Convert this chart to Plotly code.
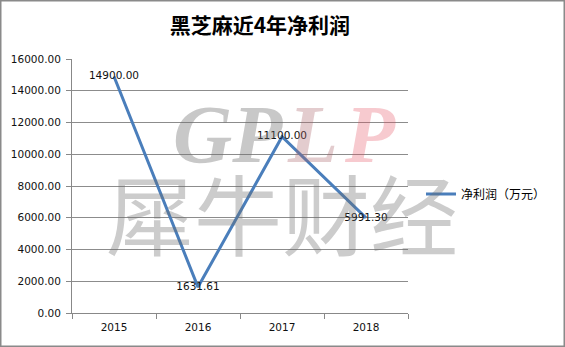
import plotly.graph_objects as go

years = ["2015", "2016", "2017", "2018"]
profit = [14900.00, 1631.61, 11100.00, 5991.30]
labels = ["14900.00", "1631.61", "11100.00", "5991.30"]
series_name = "净利润（万元）"
title = "黑芝麻近4年净利润"

W, H = 565, 347
L, R, T, B = 72, 157, 59, 34
pw, ph = W - L - R, H - T - B

def px(x):
    return (x - L) / pw

def py(y):
    return (H - B - y) / ph

fig = go.Figure()
fig.add_trace(go.Scatter(
    x=years, y=profit, mode="lines+text", name=series_name,
    text=labels, textposition="middle center",
    textfont=dict(family="DejaVu Sans", size=10.5, color="#111"),
    line=dict(color="#4a7ebb", width=3),
    cliponaxis=False,
))

fig.update_layout(
    width=W, height=H,
    margin=dict(l=L, r=R, t=T, b=B),
    paper_bgcolor="white", plot_bgcolor="white",
    title=dict(text="<b>" + title + "</b>", x=0.46, xref="container", xanchor="center",
               y=1 - 26 / H, yref="container", yanchor="middle",
               font=dict(family="Noto Sans CJK SC", size=21, color="#000")),
    showlegend=True,
    legend=dict(x=px(421), y=py(194), xanchor="left", yanchor="middle",
                font=dict(family="Noto Sans CJK SC", size=12, color="#000"),
                bgcolor="rgba(0,0,0,0)"),
    xaxis=dict(type="category", tickson="boundaries", ticks="outside", ticklen=5,
               tickcolor="#888", showline=True, linecolor="#888", linewidth=1,
               showgrid=False, range=[-0.5, 3.5], ticklabelstandoff=4,
               tickfont=dict(family="DejaVu Sans", size=10.5, color="#111")),
    yaxis=dict(range=[0, 16000], dtick=2000, tickformat=".2f", ticks="outside", ticklen=5,
               tickcolor="#888", showline=True, linecolor="#888", linewidth=1,
               showgrid=True, gridcolor="#8c8c8c", gridwidth=1, zeroline=False,
               ticklabelstandoff=3,
               tickfont=dict(family="DejaVu Sans", size=10.5, color="#111")),
)

# watermark
fig.add_annotation(xref="paper", yref="paper", x=px(282), y=py(210),
                   text="犀牛财经", showarrow=False,
                   font=dict(family="Noto Sans CJK SC", size=88, color="rgba(110,110,110,0.35)"))
wm_y = py(87)
fig.add_annotation(xref="paper", yref="paper", x=px(171), y=wm_y, xanchor="left",
                   text="<b><i>GP</i></b>", showarrow=False,
                   font=dict(family="Liberation Serif", size=82, color="rgba(110,110,110,0.38)"))
fig.add_annotation(xref="paper", yref="paper", x=px(285), y=wm_y, xanchor="left",
                   text="<b><i>L</i></b>", showarrow=False,
                   font=dict(family="Liberation Serif", size=82, color="rgba(170,100,105,0.33)"))
fig.add_annotation(xref="paper", yref="paper", x=px(342), y=wm_y, xanchor="left",
                   text="<b><i>P</i></b>", showarrow=False,
                   font=dict(family="Liberation Serif", size=82, color="rgba(230,80,95,0.3)"))

# outer frame
fig.add_shape(type="rect", xref="paper", yref="paper",
              x0=px(0.75), x1=px(564.25), y0=py(346.25), y1=py(0.75),
              line=dict(color="#8a8a8a", width=1.5), layer="above")

fig.write_html("out.html")
